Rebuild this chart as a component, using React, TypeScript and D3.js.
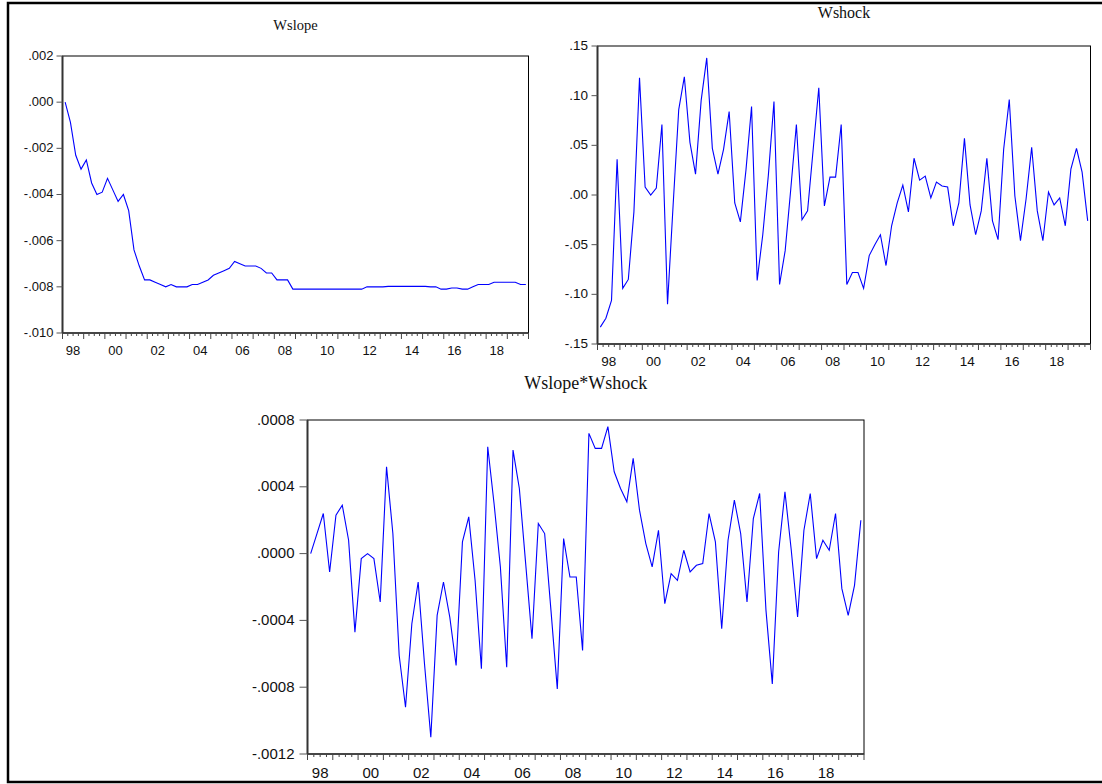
import React from 'react';
import * as d3 from 'd3';

// quarterly observations, 1998Q1 .. 2019Q4
const startYear = 1998;
const endYear = 2020;

const wslope = [
  0.0, -0.00088, -0.0023, -0.0029, -0.0025, -0.0035, -0.004, -0.0039, -0.0033, -0.0038,
  -0.0043, -0.004, -0.0047, -0.0064, -0.0071, -0.0077, -0.0077, -0.0078, -0.0079, -0.008,
  -0.0079, -0.008, -0.008, -0.008, -0.0079, -0.0079, -0.0078, -0.0077, -0.0075, -0.0074,
  -0.0073, -0.0072, -0.0069, -0.007, -0.0071, -0.0071, -0.0071, -0.0072, -0.0074, -0.0074,
  -0.0077, -0.0077, -0.0077, -0.0081, -0.0081, -0.0081, -0.0081, -0.0081, -0.0081, -0.0081,
  -0.0081, -0.0081, -0.0081, -0.0081, -0.0081, -0.0081, -0.0081, -0.008, -0.008, -0.008,
  -0.008, -0.00798, -0.00798, -0.00798, -0.00798, -0.00798, -0.00798, -0.00798, -0.00798, -0.008,
  -0.008, -0.0081, -0.0081, -0.00805, -0.00805, -0.0081, -0.0081, -0.008, -0.0079, -0.0079,
  -0.0079, -0.0078, -0.0078, -0.0078, -0.0078, -0.0078, -0.0079, -0.0079,
];

const wshock = [
  -0.133, -0.124, -0.106, 0.036, -0.094, -0.085, -0.017, 0.118, 0.008, 0.0,
  0.007, 0.071, -0.11, -0.01, 0.086, 0.119, 0.053, 0.021, 0.095, 0.138,
  0.047, 0.021, 0.046, 0.084, -0.008, -0.027, 0.025, 0.089, -0.086, -0.04,
  0.02, 0.094, -0.09, -0.056, 0.006, 0.071, -0.025, -0.016, 0.046, 0.108,
  -0.011, 0.018, 0.018, 0.071, -0.09, -0.078, -0.078, -0.094, -0.061, -0.05,
  -0.04, -0.071, -0.031, -0.008, 0.01, -0.017, 0.037, 0.015, 0.019, -0.003,
  0.013, 0.009, 0.008, -0.031, -0.008, 0.057, -0.01, -0.04, -0.016, 0.037,
  -0.026, -0.045, 0.046, 0.096, -0.001, -0.046, -0.004, 0.048, -0.016, -0.046,
  0.003, -0.01, -0.003, -0.031, 0.026, 0.047, 0.023, -0.026,
];

const product = [
  0.0, 0.00012, 0.00024, -0.00011, 0.00023, 0.00029, 0.00008, -0.00047, -0.00003, 0.0,
  -0.00003, -0.00029, 0.00052, 0.00012, -0.00061, -0.00092, -0.00042, -0.00017, -0.00066, -0.0011,
  -0.00037, -0.00017, -0.00038, -0.00067, 0.00007, 0.00022, -0.00016, -0.00069, 0.00064, 0.0003,
  -0.00008, -0.00068, 0.00062, 0.00039, -0.00006, -0.00051, 0.00018, 0.00012, -0.00034, -0.00081,
  0.00009, -0.00014, -0.00014, -0.00058, 0.00072, 0.00063, 0.00063, 0.00076, 0.00049, 0.00039,
  0.00031, 0.00057, 0.00026, 0.00006, -0.00008, 0.00014, -0.0003, -0.00012, -0.00016, 0.00002,
  -0.00011, -0.00007, -0.00006, 0.00024, 0.00007, -0.00045, 0.00008, 0.00032, 0.00012, -0.00029,
  0.00021, 0.00036, -0.00034, -0.00078, 0.00001, 0.00037, 0.00002, -0.00038, 0.00014, 0.00036,
  -0.00003, 0.00008, 0.00002, 0.00024, -0.00021, -0.00037, -0.00019, 0.0002,
];

const yearLabels = ['98', '00', '02', '04', '06', '08', '10', '12', '14', '16', '18'];
const labelYears = [1998, 2000, 2002, 2004, 2006, 2008, 2010, 2012, 2014, 2016, 2018];

const slopeTicks = [0.002, 0.0, -0.002, -0.004, -0.006, -0.008, -0.01];
const slopeTickLabels = ['.002', '.000', '-.002', '-.004', '-.006', '-.008', '-.010'];
const shockTicks = [0.15, 0.1, 0.05, 0.0, -0.05, -0.1, -0.15];
const shockTickLabels = ['.15', '.10', '.05', '.00', '-.05', '-.10', '-.15'];
const prodTicks = [0.0008, 0.0004, 0.0, -0.0004, -0.0008, -0.0012];
const prodTickLabels = ['.0008', '.0004', '.0000', '-.0004', '-.0008', '-.0012'];

type PanelProps = {
  title: string;
  titleY: number;
  titleSize: number;
  values: number[];
  ticks: number[];
  tickLabels: string[];
  left: number;
  right: number;
  top: number;
  bottom: number;
  fontSize: number;
  tickLen: number;
  labelGap: number;
  xLabelDy: number;
};

const Panel = (p: PanelProps) => {
  const { left, right, top, bottom, fontSize, ticks } = p;
  const x = d3.scaleLinear().domain([startYear, endYear]).range([left, right]);
  const y = d3.scaleLinear().domain([d3.min(ticks)!, d3.max(ticks)!]).range([bottom, top]);

  const line = d3.line<number>()
    .x((_, i) => x(startYear + (i + 0.5) / 4))
    .y(d => y(d));

  const quarters = d3.range(startYear * 4, endYear * 4 + 1).map(q => q / 4);

  return (
    <g>
      <text x={(left + right) / 2} y={p.titleY} textAnchor="middle"
        fontFamily="'Liberation Serif', 'DejaVu Serif', serif" fontSize={p.titleSize} fill="#111">{p.title}</text>
      <rect x={left} y={top} width={right - left} height={bottom - top} fill="none" stroke="#000" strokeWidth={1} />
      <line x1={left} x2={left} y1={top} y2={bottom} stroke="#333" strokeWidth={2} />
      <line x1={left} x2={right} y1={bottom} y2={bottom} stroke="#333" strokeWidth={1.5} />
      {ticks.map((t, i) => (
        <g key={'y' + i}>
          <line x1={left - p.tickLen} x2={left} y1={y(t)} y2={y(t)} stroke="#555" strokeWidth={1} />
          <text x={left - p.labelGap} y={y(t) + fontSize * 0.3} textAnchor="end"
            fontFamily="'Liberation Sans', Arial, sans-serif" fontSize={fontSize} fill="#111">{p.tickLabels[i]}</text>
        </g>
      ))}
      {quarters.map((q, i) => {
        const major = i % 4 === 0;
        return (
          <line key={'q' + i} x1={x(q)} x2={x(q)} y1={bottom} y2={bottom + (major ? 6 : 3)}
            stroke="#444" strokeWidth={1} />
        );
      })}
      {labelYears.map((yr, i) => (
        <text key={'xl' + i} x={x(yr + 0.5)} y={bottom + p.xLabelDy} textAnchor="middle"
          fontFamily="'Liberation Sans', Arial, sans-serif" fontSize={fontSize} fill="#111">{yearLabels[i]}</text>
      ))}
      <path d={line(p.values) || ''} fill="none" stroke="#0000ff" strokeWidth={1.1} />
    </g>
  );
};

export default function App() {
  return (
    <div style={{ position: 'absolute', left: 0, top: 0 }}>
      <svg width={1102} height={784} style={{ display: 'block', background: '#fff' }}>
        <rect x={8} y={3} width={1102} height={779} fill="none" stroke="#000" strokeWidth={2.5} />
        <Panel title="Wslope" titleY={30} titleSize={14.5} values={wslope} ticks={slopeTicks}
          tickLabels={slopeTickLabels} left={62.5} right={528.5} top={56} bottom={333}
          fontSize={13} tickLen={6} labelGap={9} xLabelDy={21.5} />
        <Panel title="Wshock" titleY={17.5} titleSize={16} values={wshock} ticks={shockTicks}
          tickLabels={shockTickLabels} left={597.5} right={1090.5} top={46} bottom={344}
          fontSize={13.5} tickLen={6} labelGap={9.5} xLabelDy={21.5} />
        <Panel title="Wslope*Wshock" titleY={389} titleSize={18} values={product} ticks={prodTicks}
          tickLabels={prodTickLabels} left={307.5} right={864} top={420} bottom={754}
          fontSize={15} tickLen={8} labelGap={13} xLabelDy={24} />
      </svg>
    </div>
  );
}
